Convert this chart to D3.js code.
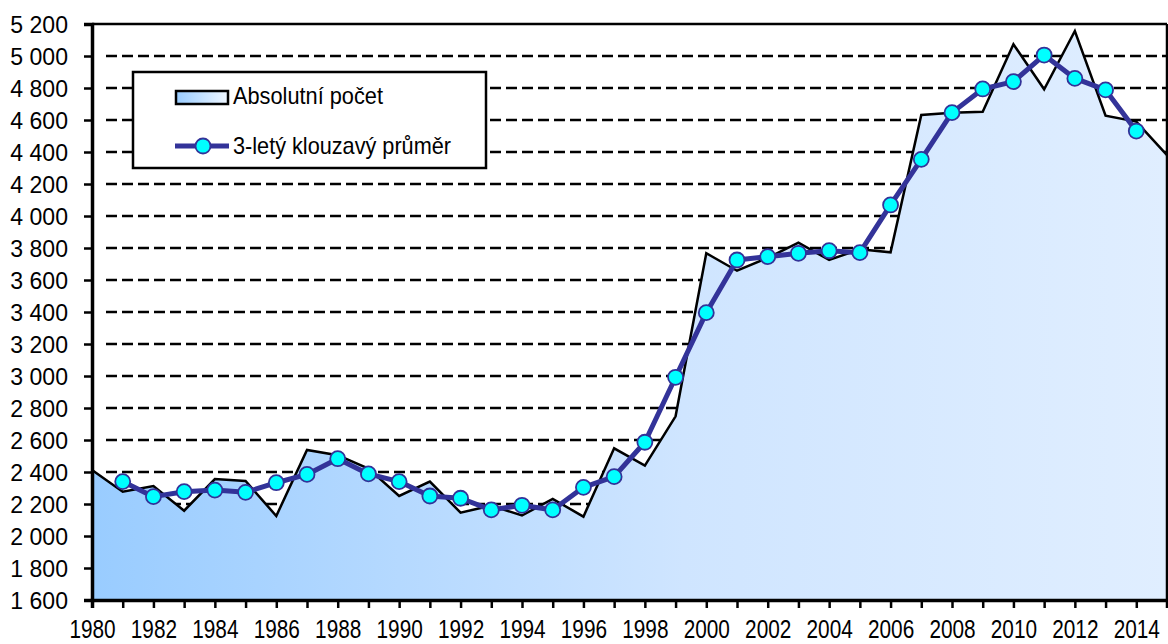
<!DOCTYPE html>
<html>
<head>
<meta charset="utf-8">
<script src="https://cdn.jsdelivr.net/npm/d3@7"></script>
<style>
  html, body { margin: 0; padding: 0; background: #fff; }
  svg { display: block; font-family: "Liberation Sans", Arial, sans-serif; }
</style>
</head>
<body>
<svg id="chart" width="1168" height="644"></svg>
<script>
// Years on the category axis
const years = [1980, 1981, 1982, 1983, 1984, 1985, 1986, 1987, 1988, 1989,
               1990, 1991, 1992, 1993, 1994, 1995, 1996, 1997, 1998, 1999,
               2000, 2001, 2002, 2003, 2004, 2005, 2006, 2007, 2008, 2009,
               2010, 2011, 2012, 2013, 2014, 2015];

// Absolute count per year
const absolute = [2412, 2277, 2312, 2158, 2356, 2344, 2125, 2538, 2505, 2422,
                  2250, 2340, 2146, 2190, 2128, 2232, 2121, 2548, 2440, 2748,
                  3767, 3658, 3738, 3833, 3725, 3792, 3773, 4631, 4646, 4652,
                  5073, 4792, 5156, 4627, 4590, 4381];

// 3-year centred moving average (1981–2014)
const avgYears = [1981, 1982, 1983, 1984, 1985, 1986, 1987, 1988, 1989, 1990,
                  1991, 1992, 1993, 1994, 1995, 1996, 1997, 1998, 1999, 2000,
                  2001, 2002, 2003, 2004, 2005, 2006, 2007, 2008, 2009, 2010,
                  2011, 2012, 2013, 2014];
const movingAvg = [2340, 2246, 2277, 2287, 2273, 2333, 2385, 2483, 2388, 2340,
                   2250, 2236, 2163, 2192, 2163, 2304, 2371, 2586, 2992, 3396,
                   3725, 3746, 3767, 3783, 3771, 4069, 4354, 4646, 4794, 4840,
                   5006, 4860, 4788, 4531];

// Axis ticks
const yTicks = [1600, 1800, 2000, 2200, 2400, 2600, 2800, 3000, 3200, 3400,
                3600, 3800, 4000, 4200, 4400, 4600, 4800, 5000, 5200];
const xLabelYears = [1980, 1982, 1984, 1986, 1988, 1990, 1992, 1994, 1996, 1998,
                     2000, 2002, 2004, 2006, 2008, 2010, 2012, 2014];

const legendLabels = ["Absolutní počet", "3-letý klouzavý průměr"];

const svg = d3.select("#chart");
const plot = { left: 92, right: 1167, top: 24, bottom: 600 };

const x = d3.scaleLinear().domain([1980, 2015]).range([plot.left, plot.right]);
const y = d3.scaleLinear().domain([1600, 5200]).range([plot.bottom, plot.top]);

const fmt = d3.formatLocale({ decimal: ",", thousands: " ", grouping: [3], currency: ["", ""] }).format(",d");

// Gradient for the area and its legend swatch
const defs = svg.append("defs");
const grad = defs.append("linearGradient").attr("id", "areaGrad")
  .attr("x1", "0%").attr("x2", "100%").attr("y1", "0%").attr("y2", "0%");
grad.append("stop").attr("offset", "0%").attr("stop-color", "#99ccff");
grad.append("stop").attr("offset", "55%").attr("stop-color", "#cfe5ff");
grad.append("stop").attr("offset", "100%").attr("stop-color", "#e0eeff");

const gradL = defs.append("linearGradient").attr("id", "swatchGrad")
  .attr("x1", "0%").attr("x2", "100%").attr("y1", "0%").attr("y2", "0%");
gradL.append("stop").attr("offset", "0%").attr("stop-color", "#99ccff");
gradL.append("stop").attr("offset", "100%").attr("stop-color", "#eef6ff");

// Dashed horizontal gridlines
svg.append("g").selectAll("line")
  .data(yTicks.filter(v => v > 1600 && v < 5200))
  .join("line")
  .attr("x1", plot.left + 14).attr("x2", plot.right)
  .attr("y1", d => y(d)).attr("y2", d => y(d))
  .attr("stroke", "#000").attr("stroke-width", 2.5)
  .attr("stroke-dasharray", "11,5");

// Area for absolute counts
const pts = years.map((yr, i) => ({ yr, v: absolute[i] }));
svg.append("path")
  .datum(pts)
  .attr("fill", "url(#areaGrad)")
  .attr("d", d3.area().x(d => x(d.yr)).y0(y(1600)).y1(d => y(d.v)));

svg.append("path")
  .datum(pts)
  .attr("fill", "none").attr("stroke", "#000").attr("stroke-width", 2.5)
  .attr("stroke-linejoin", "miter")
  .attr("d", d3.line().x(d => x(d.yr)).y(d => y(d.v)));

// Plot-area frame: top and right edges
svg.append("line").attr("x1", plot.left).attr("x2", plot.right)
  .attr("y1", plot.top).attr("y2", plot.top)
  .attr("stroke", "#000").attr("stroke-width", 2.5);
svg.append("line").attr("x1", plot.right).attr("x2", plot.right)
  .attr("y1", plot.top).attr("y2", plot.bottom)
  .attr("stroke", "#000").attr("stroke-width", 2.5);

// Y axis
const yAxis = svg.append("g")
  .attr("transform", `translate(${plot.left},0)`)
  .call(d3.axisLeft(y).tickValues(yTicks).tickFormat(fmt).tickSize(8).tickPadding(17));
yAxis.select(".domain").attr("stroke-width", 3.5);
yAxis.selectAll(".tick line").attr("stroke-width", 2.5);
yAxis.selectAll(".tick text")
  .attr("font-size", 24).attr("fill", "#000")
  .attr("font-family", "'Liberation Sans', Arial, sans-serif")
  .attr("dy", "0.36em")
  .attr("transform", "scale(0.96,1)");

// X axis
const xAxis = svg.append("g")
  .attr("transform", `translate(0,${plot.bottom})`)
  .call(d3.axisBottom(x).tickValues(years)
    .tickFormat(d => xLabelYears.includes(d) ? String(d) : "")
    .tickSize(8).tickPadding(0));
xAxis.select(".domain").attr("stroke-width", 3.5);
xAxis.selectAll(".tick line").attr("stroke-width", 2.5);
xAxis.selectAll(".tick text")
  .attr("font-size", 26).attr("fill", "#000")
  .attr("font-family", "'Liberation Sans', Arial, sans-serif")
  .attr("y", 0).attr("dy", 0)
  .attr("transform", "translate(0,38) scale(0.8,1)");

// Moving-average line with markers
const avgPts = avgYears.map((yr, i) => ({ yr, v: movingAvg[i] }));
svg.append("path")
  .datum(avgPts)
  .attr("fill", "none").attr("stroke", "#333399").attr("stroke-width", 5)
  .attr("stroke-linejoin", "round")
  .attr("d", d3.line().x(d => x(d.yr)).y(d => y(d.v)));
svg.append("g").selectAll("circle")
  .data(avgPts).join("circle")
  .attr("cx", d => x(d.yr)).attr("cy", d => y(d.v)).attr("r", 7.5)
  .attr("fill", "#00ffff").attr("stroke", "#333399").attr("stroke-width", 1.8);

// Legend
const lg = svg.append("g");
lg.append("rect").attr("x", 133).attr("y", 72).attr("width", 353).attr("height", 96)
  .attr("fill", "#fff").attr("stroke", "#000").attr("stroke-width", 2.5);
lg.append("rect").attr("x", 176).attr("y", 91).attr("width", 52).attr("height", 13)
  .attr("fill", "url(#swatchGrad)").attr("stroke", "#000").attr("stroke-width", 2.5);
lg.append("text").attr("x", 233).attr("y", 104)
  .attr("font-size", 24).attr("textLength", 150).attr("lengthAdjust", "spacingAndGlyphs")
  .text(legendLabels[0]);
lg.append("line").attr("x1", 175).attr("x2", 229).attr("y1", 146).attr("y2", 146)
  .attr("stroke", "#333399").attr("stroke-width", 5);
lg.append("circle").attr("cx", 203).attr("cy", 146).attr("r", 7.5)
  .attr("fill", "#00ffff").attr("stroke", "#333399").attr("stroke-width", 1.8);
lg.append("text").attr("x", 233).attr("y", 154)
  .attr("font-size", 24).attr("textLength", 218).attr("lengthAdjust", "spacingAndGlyphs")
  .text(legendLabels[1]);
</script>
</body>
</html>
